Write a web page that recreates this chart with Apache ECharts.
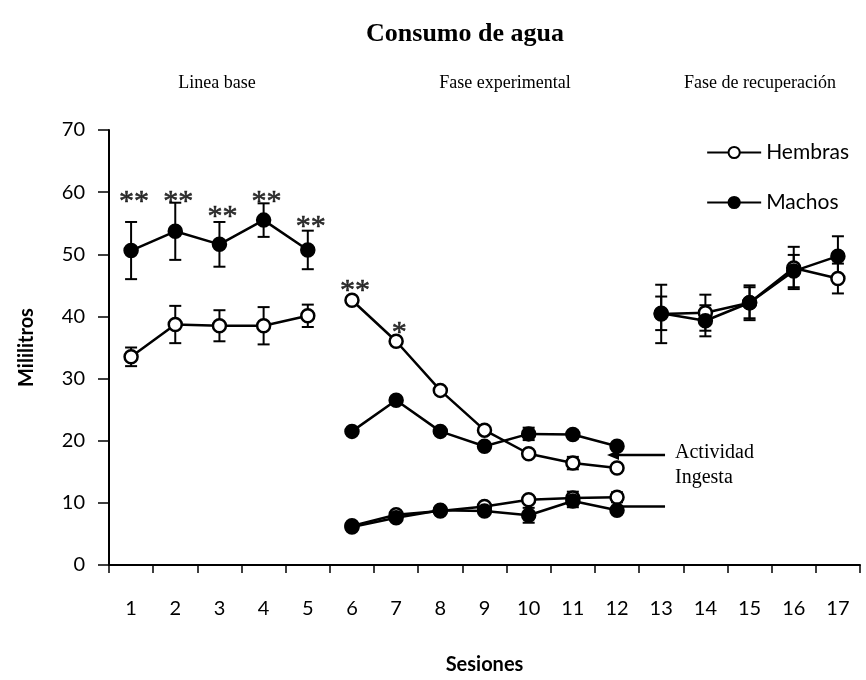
<!DOCTYPE html>
<html>
<head>
<meta charset="utf-8">
<script src="https://cdn.jsdelivr.net/npm/echarts@6/dist/echarts.min.js"></script>
<style>html,body{margin:0;padding:0;background:#fff;}#chart{width:866px;height:680px;}</style>
</head>
<body>
<div id="chart"></div>
<script>
const sessions = ['1','2','3','4','5','6','7','8','9','10','11','12','13','14','15','16','17'];
const yTicks = [0, 10, 20, 30, 40, 50, 60, 70];

// Línea base (sesiones 1-5)
const hembrasBase = [33.5, 38.7, 38.5, 38.5, 40.1];
const hembrasBaseErr = [1.5, 3.0, 2.5, 3.0, 1.8];
const machosBase = [50.6, 53.7, 51.6, 55.5, 50.7];
const machosBaseErr = [4.6, 4.6, 3.6, 2.7, 3.1];

// Fase experimental (sesiones 6-12): actividad
const hembrasAct = [42.6, 36.0, 28.1, 21.7, 17.9, 16.4, 15.6];
const hembrasActErr = [0, 0, 0, 0, 0, 1.0, 0];
const machosAct = [21.5, 26.5, 21.5, 19.1, 21.1, 21.0, 19.1];
const machosActErr = [0, 0, 0, 0, 1.0, 0.6, 0];

// Fase experimental (sesiones 6-12): ingesta
const hembrasIng = [6.3, 8.1, 8.7, 9.4, 10.5, 10.8, 10.9];
const hembrasIngErr = [0, 0, 0, 0, 0, 1.0, 0.8];
const machosIng = [6.1, 7.6, 8.8, 8.7, 8.0, 10.3, 8.8];
const machosIngErr = [0, 0, 0, 0, 1.2, 1.0, 0];

// Fase de recuperación (sesiones 13-17)
const hembrasRec = [40.4, 40.6, 42.2, 47.8, 46.1];
const hembrasRecErr = [4.7, 2.9, 2.8, 3.4, 2.4];
const machosRec = [40.5, 39.3, 42.2, 47.3, 49.7];
const machosRecErr = [2.7, 2.5, 2.5, 2.6, 3.2];

// Significancia
const sigMachosBase = ['**', '**', '**', '**', '**'];
const sigMachosBaseY = [59.3, 59.3, 56.9, 59.3, 55.3];
const sigHembrasExp = ['**', '*'];
const sigHembrasExpY = [45.0, 38.3];

const phaseStart = { base: 0, exp: 5, rec: 12 };
const arrowActividadY = 17.7;
const arrowIngestaY = 9.4;

const serifFont = '"Liberation Serif", "DejaVu Serif", serif';
const sansFont = 'Lato, "Open Sans", sans-serif';

function segment(values, start) {
  const arr = sessions.map(() => null);
  values.forEach((v, i) => { arr[start + i] = v; });
  return arr;
}
function errItems(values, errs, start) {
  const out = [];
  values.forEach((v, i) => { if (errs[i] > 0) out.push([start + i, v - errs[i], v + errs[i]]); });
  return out;
}

function lineSeries(name, values, start, filled) {
  return {
    name: name,
    type: 'line',
    data: segment(values, start),
    symbol: 'circle',
    symbolSize: 13,
    showSymbol: true,
    connectNulls: false,
    z: 5,
    lineStyle: { color: '#000', width: 2.5 },
    itemStyle: { color: filled ? '#000' : '#fff', borderColor: '#000', borderWidth: 2.5 },
    emphasis: { disabled: true },
    animation: false
  };
}

const errData = []
  .concat(errItems(hembrasBase, hembrasBaseErr, phaseStart.base))
  .concat(errItems(machosBase, machosBaseErr, phaseStart.base))
  .concat(errItems(hembrasAct, hembrasActErr, phaseStart.exp))
  .concat(errItems(machosAct, machosActErr, phaseStart.exp))
  .concat(errItems(hembrasIng, hembrasIngErr, phaseStart.exp))
  .concat(errItems(machosIng, machosIngErr, phaseStart.exp))
  .concat(errItems(hembrasRec, hembrasRecErr, phaseStart.rec))
  .concat(errItems(machosRec, machosRecErr, phaseStart.rec));

const sigData = []
  .concat(sigMachosBase.map((t, i) => [phaseStart.base + i, sigMachosBaseY[i], t]))
  .concat(sigHembrasExp.map((t, i) => [phaseStart.exp + i, sigHembrasExpY[i], t]));

const chart = echarts.init(document.getElementById('chart'), null, { renderer: 'canvas' });

const option = {
  backgroundColor: '#fff',
  animation: false,
  grid: { left: 109, right: 6, top: 130, bottom: 103, containLabel: false },
  legend: {
    data: ['Hembras', 'Machos'],
    orient: 'vertical',
    right: 12,
    top: 137,
    itemWidth: 54,
    itemHeight: 14,
    itemGap: 29,
    textStyle: { fontFamily: sansFont, fontSize: 21, color: '#000' },
    selectedMode: false
  },
  xAxis: {
    type: 'category',
    data: sessions,
    boundaryGap: true,
    name: 'Sesiones',
    nameLocation: 'middle',
    nameGap: 90,
    nameTextStyle: { fontFamily: sansFont, fontSize: 20, fontWeight: 'bold', color: '#000' },
    axisLine: { onZero: false, lineStyle: { color: '#000', width: 2 } },
    axisTick: { show: true, alignWithLabel: false, length: 8, lineStyle: { color: '#000', width: 1.5 } },
    axisLabel: { fontFamily: sansFont, fontSize: 20, color: '#000', margin: 34, interval: 0 },
    splitLine: { show: false }
  },
  yAxis: {
    type: 'value',
    min: 0,
    max: 70,
    interval: 10,
    name: 'Mililitros',
    nameLocation: 'middle',
    nameGap: 72,
    nameRotate: 90,
    nameTextStyle: { fontFamily: sansFont, fontSize: 20, fontWeight: 'bold', color: '#000' },
    axisLine: { show: true, lineStyle: { color: '#000', width: 2 } },
    axisTick: { show: true, length: 11, lineStyle: { color: '#000', width: 1.5 } },
    axisLabel: {
      fontFamily: sansFont, fontSize: 20, color: '#000', margin: 24,
      formatter: v => (yTicks.indexOf(v) >= 0 ? String(v) : '')
    },
    splitLine: { show: false }
  },
  series: [
    lineSeries('Hembras', hembrasBase, phaseStart.base, false),
    lineSeries('Machos', machosBase, phaseStart.base, true),
    lineSeries('Hembras', hembrasAct, phaseStart.exp, false),
    lineSeries('Machos', machosAct, phaseStart.exp, true),
    lineSeries('Hembras', hembrasIng, phaseStart.exp, false),
    lineSeries('Machos', machosIng, phaseStart.exp, true),
    lineSeries('Hembras', hembrasRec, phaseStart.rec, false),
    lineSeries('Machos', machosRec, phaseStart.rec, true),
    {
      name: 'err',
      type: 'custom',
      z: 3,
      silent: true,
      data: errData,
      renderItem: function (params, api) {
        const x = api.value(0);
        const lo = api.coord([x, api.value(1)]);
        const hi = api.coord([x, api.value(2)]);
        const hw = 6;
        const st = { stroke: '#000', lineWidth: 2 };
        return {
          type: 'group',
          children: [
            { type: 'line', shape: { x1: lo[0], y1: lo[1], x2: hi[0], y2: hi[1] }, style: st },
            { type: 'line', shape: { x1: hi[0] - hw, y1: hi[1], x2: hi[0] + hw, y2: hi[1] }, style: st },
            { type: 'line', shape: { x1: lo[0] - hw, y1: lo[1], x2: lo[0] + hw, y2: lo[1] }, style: st }
          ]
        };
      }
    },
    {
      name: 'sig',
      type: 'scatter',
      z: 6,
      silent: true,
      symbolSize: 1,
      itemStyle: { color: 'rgba(0,0,0,0)' },
      data: sigData,
      label: {
        show: true,
        position: 'inside',
        formatter: p => p.value[2],
        fontFamily: serifFont,
        fontSize: 30,
        color: '#000',
        textBorderColor: '#000',
        textBorderWidth: 0.6,
        offset: [3, 6]
      }
    }
  ]
};

chart.setOption(option);

// Anotaciones
const pAct = chart.convertToPixel({ xAxisIndex: 0, yAxisIndex: 0 }, [phaseStart.exp + 6, arrowActividadY]);
const pIng = chart.convertToPixel({ xAxisIndex: 0, yAxisIndex: 0 }, [phaseStart.exp + 6, arrowIngestaY]);
const tailX = pAct[0] + 48;
const tipX = pAct[0] - 10;

chart.setOption({
  graphic: [
    { type: 'text', x: 465, y: 34, style: { text: 'Consumo de agua', font: 'bold 26px ' + serifFont, fill: '#000', align: 'center', verticalAlign: 'middle' } },
    { type: 'text', x: 217, y: 83, style: { text: 'Linea base', font: '18px ' + serifFont, fill: '#000', align: 'center', verticalAlign: 'middle' } },
    { type: 'text', x: 505, y: 83, style: { text: 'Fase experimental', font: '18px ' + serifFont, fill: '#000', align: 'center', verticalAlign: 'middle' } },
    { type: 'text', x: 760, y: 83, style: { text: 'Fase de recuperación', font: '18px ' + serifFont, fill: '#000', align: 'center', verticalAlign: 'middle' } },
    { type: 'line', z: 1, shape: { x1: tipX + 8, y1: pAct[1], x2: tailX, y2: pAct[1] }, style: { stroke: '#000', lineWidth: 2.5 } },
    { type: 'polygon', z: 1, shape: { points: [[tipX, pAct[1]], [tipX + 12, pAct[1] - 5], [tipX + 12, pAct[1] + 5]] }, style: { fill: '#000' } },
    { type: 'line', z: 1, shape: { x1: pIng[0], y1: pIng[1], x2: tailX, y2: pIng[1] }, style: { stroke: '#000', lineWidth: 2.5 } },
    { type: 'text', x: tailX + 10, y: pAct[1] - 2, style: { text: 'Actividad', font: '20px ' + serifFont, fill: '#000', align: 'left', verticalAlign: 'middle' } },
    { type: 'text', x: tailX + 10, y: pAct[1] + 23, style: { text: 'Ingesta', font: '20px ' + serifFont, fill: '#000', align: 'left', verticalAlign: 'middle' } }
  ]
});
</script>
</body>
</html>
